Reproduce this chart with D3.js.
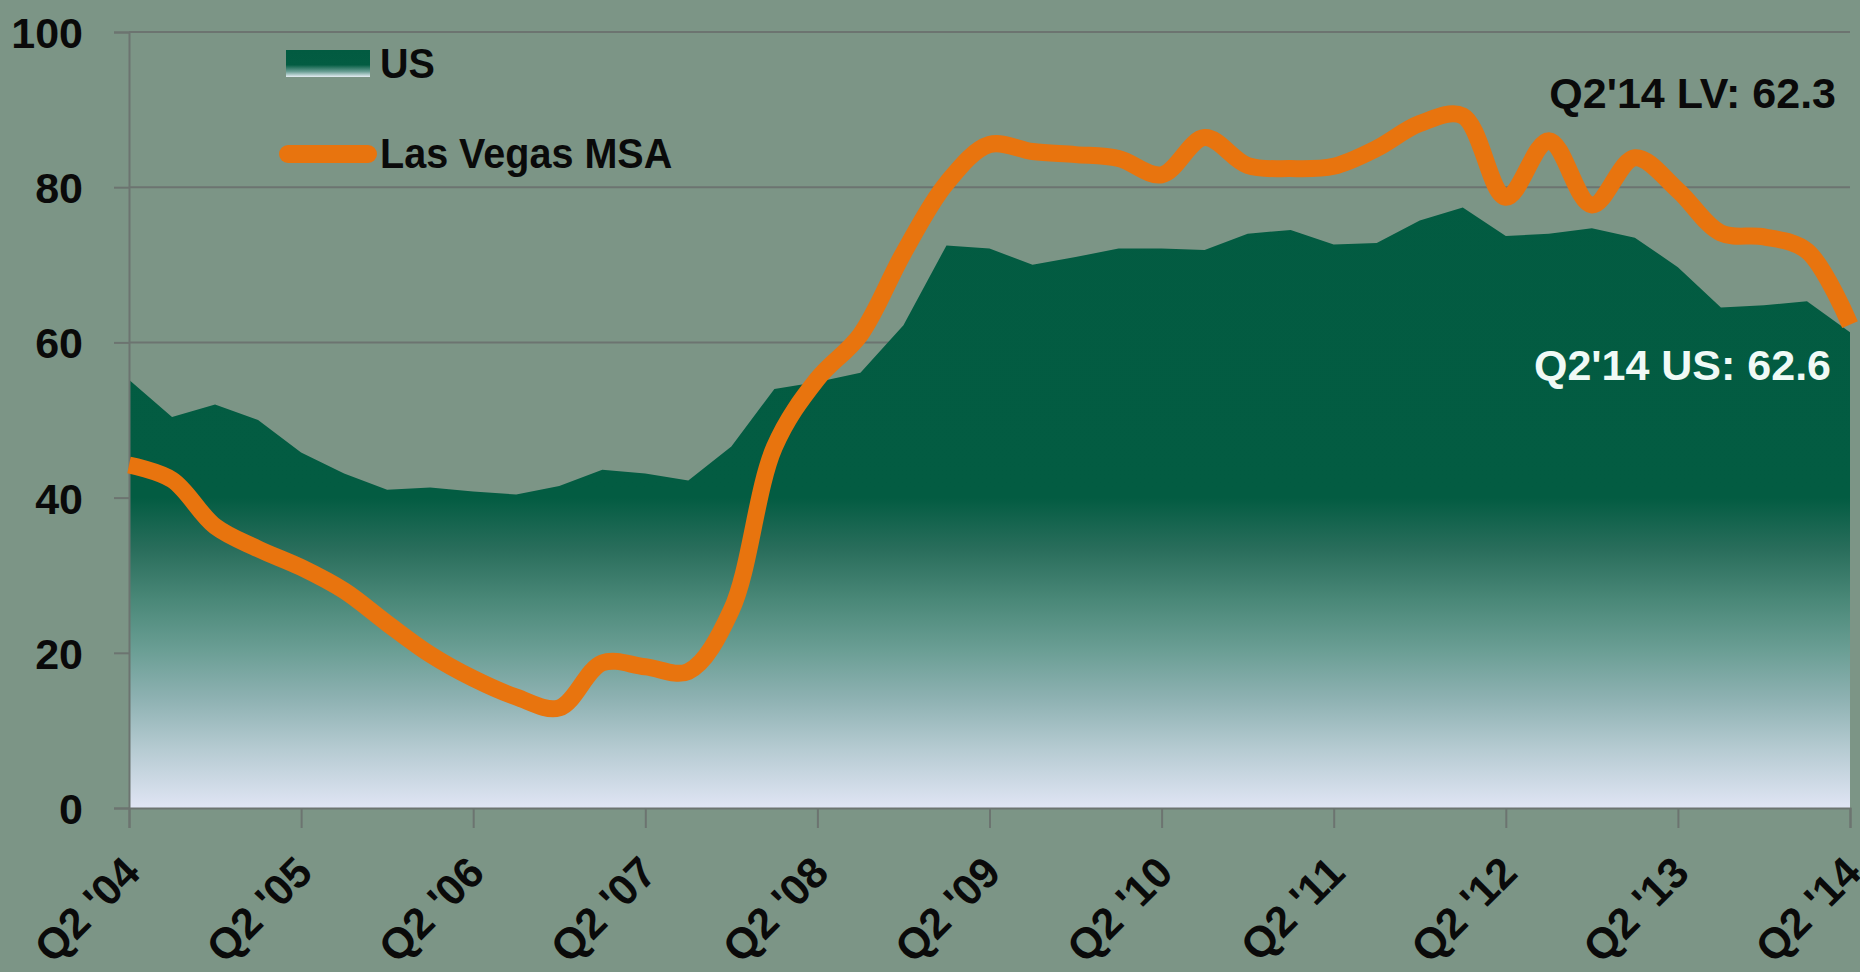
<!DOCTYPE html>
<html><head><meta charset="utf-8">
<script src="https://cdn.jsdelivr.net/npm/d3@7"></script>
<style>
html,body{margin:0;padding:0;background:#7C9586;}
svg{display:block}
text{font-family:'Liberation Sans',Arial,sans-serif;font-weight:bold;}
</style>
</head><body>
<svg id="chart" width="1860" height="972"></svg>
<script>
const categories = ["Q2 '04","Q3 '04","Q4 '04","Q1 '05","Q2 '05","Q3 '05","Q4 '05","Q1 '06","Q2 '06","Q3 '06","Q4 '06","Q1 '07","Q2 '07","Q3 '07","Q4 '07","Q1 '08","Q2 '08","Q3 '08","Q4 '08","Q1 '09","Q2 '09","Q3 '09","Q4 '09","Q1 '10","Q2 '10","Q3 '10","Q4 '10","Q1 '11","Q2 '11","Q3 '11","Q4 '11","Q1 '12","Q2 '12","Q3 '12","Q4 '12","Q1 '13","Q2 '13","Q3 '13","Q4 '13","Q1 '14","Q2 '14"];
const usValues = [55.2,50.4,52.0,50.0,45.8,43.1,41.0,41.3,40.8,40.4,41.5,43.6,43.1,42.2,46.6,54.0,54.9,56.1,62.2,72.5,72.1,70.0,71.0,72.1,72.1,71.9,74.0,74.5,72.6,72.8,75.7,77.4,73.7,74.0,74.7,73.5,69.7,64.5,64.8,65.3,61.3];
const lvValues = [44.2,42.3,36.3,33.4,31.0,28.0,23.8,19.8,16.7,14.3,12.9,18.7,18.2,17.6,25.5,46.5,55.3,61.0,71.5,80.5,85.5,84.6,84.2,83.7,81.6,86.4,82.8,82.4,82.7,85.0,88.2,89.2,78.7,86.0,77.7,83.8,79.6,74.1,73.6,71.8,62.3];
const yTicks = [0,20,40,60,80,100];
const xTickLabels = ["Q2 '04","Q2 '05","Q2 '06","Q2 '07","Q2 '08","Q2 '09","Q2 '10","Q2 '11","Q2 '12","Q2 '13","Q2 '14"];
const legendLabels = ["US","Las Vegas MSA"];
const annotationLabels = ["Q2'14 LV: 62.3","Q2'14 US: 62.6"];

const W = 1860, H = 972;
const m = {left:129, right:10, top:32, bottom:164};
const FS = 43, SX = 0.92, SXN = 1.0;
const svg = d3.select("#chart");
const x = d3.scalePoint().domain(categories).range([m.left, W - m.right]);
const y = d3.scaleLinear().domain([0,100]).range([H - m.bottom, m.top]);

const defs = svg.append("defs");
const g1 = defs.append("linearGradient").attr("id","areaGrad")
  .attr("gradientUnits","userSpaceOnUse").attr("x1",0).attr("x2",0)
  .attr("y1",y(100)).attr("y2",y(0));
[[0,"#025B41"],[0.6,"#035C42"],[0.668,"#2A6E5C"],[0.732,"#4A8878"],[0.796,"#6A9E94"],[0.861,"#8FB2B3"],[0.925,"#B6CBD2"],[1,"#E0E5F4"]]
  .forEach(s => g1.append("stop").attr("offset",s[0]).attr("stop-color",s[1]));
const g2 = defs.append("linearGradient").attr("id","legGrad").attr("x1",0).attr("x2",0).attr("y1",0).attr("y2",1);
[[0,"#025B41"],[0.55,"#035C42"],[0.8,"#6A9E94"],[1,"#E6EEF4"]]
  .forEach(s => g2.append("stop").attr("offset",s[0]).attr("stop-color",s[1]));

const gridColor = "#6C7470";
svg.append("g").selectAll("line").data(yTicks.filter(d=>d>0)).join("line")
  .attr("x1",m.left).attr("x2",W - m.right)
  .attr("y1",d=>y(d)).attr("y2",d=>y(d))
  .attr("stroke",gridColor).attr("stroke-width",2);

const area = d3.area().x((d,i)=>x(categories[i])).y0(y(0)).y1(d=>y(d));
svg.append("path").datum(usValues).attr("d",area).attr("fill","url(#areaGrad)");

function styleText(sel){
  sel.attr("font-size",FS).style("font-family","'Liberation Sans',Arial,sans-serif").style("font-weight","bold");
}

const yAxis = svg.append("g").attr("transform",`translate(${m.left},0)`)
  .call(d3.axisLeft(y).tickValues(yTicks).tickSize(15).tickPadding(0));
yAxis.selectAll("path,line").attr("stroke",gridColor).attr("stroke-width",2);
yAxis.selectAll("text").call(styleText).attr("fill","#0A0A0A")
  .attr("x",0).attr("dy","0.36em")
  .attr("transform",`translate(-46,0) scale(${SXN},1)`);

const xAxis = svg.append("g").attr("transform",`translate(0,${y(0)})`)
  .call(d3.axisBottom(x).tickValues(xTickLabels).tickSize(20).tickFormat(d=>d));
xAxis.selectAll("path,line").attr("stroke",gridColor).attr("stroke-width",2);
xAxis.selectAll("text").call(styleText).attr("fill","#0A0A0A")
  .attr("text-anchor","end").attr("dy",0).attr("y",0)
  .attr("transform",`translate(13,67) rotate(-45) scale(${SXN},1)`);

const line = d3.line().x((d,i)=>x(categories[i])).y(d=>y(d)).curve(d3.curveCatmullRom.alpha(0.5));
svg.append("path").datum(lvValues).attr("d",line)
  .attr("fill","none").attr("stroke","#E8740E").attr("stroke-width",17)
  .attr("stroke-linejoin","round");

const leg = svg.append("g");
leg.append("rect").attr("x",286).attr("y",50).attr("width",84).attr("height",27).attr("fill","url(#legGrad)");
leg.append("line").attr("x1",288).attr("x2",368).attr("y1",154).attr("y2",154)
  .attr("stroke","#E8740E").attr("stroke-width",18).attr("stroke-linecap","round");
leg.selectAll("text").data(legendLabels).join("text")
  .attr("transform",(d,i)=>`translate(380,${i===0?78:168}) scale(${SX},1)`)
  .call(styleText).attr("fill","#0A0A0A").text(d=>d);

svg.append("text").attr("transform",`translate(1836,108) scale(${SXN},1)`).attr("text-anchor","end")
  .call(styleText).attr("fill","#0A0A0A").text(annotationLabels[0]);
svg.append("text").attr("transform",`translate(1831,380) scale(${SXN},1)`).attr("text-anchor","end")
  .call(styleText).attr("fill","#F0FAF6").text(annotationLabels[1]);
</script>
</body></html>
